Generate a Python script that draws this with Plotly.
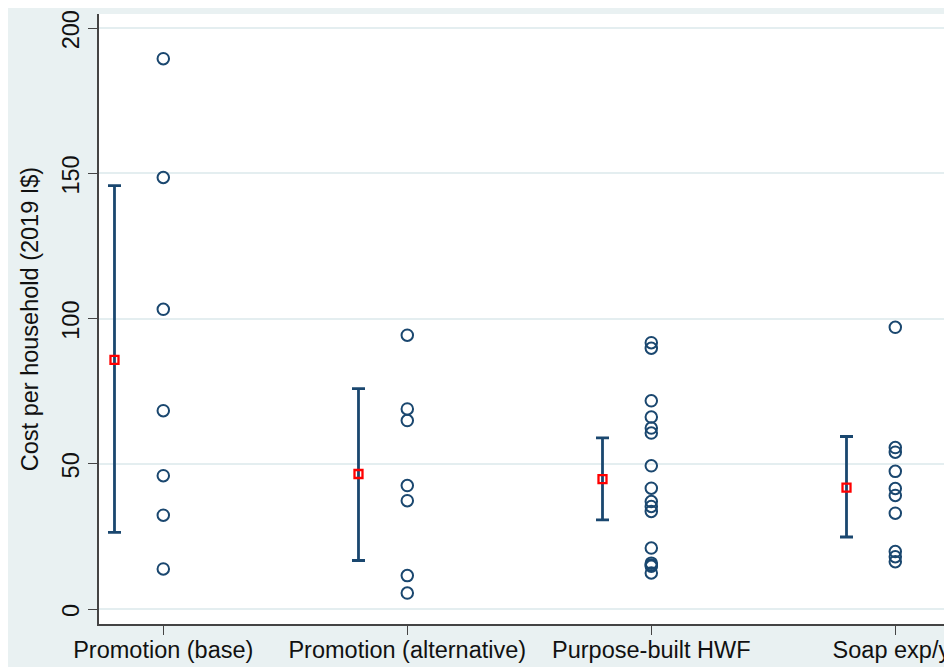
import plotly.graph_objects as go

categories = ["Promotion (base)", "Promotion (alternative)", "Purpose-built HWF", "Soap exp/yr"]
base_vals = [189.5, 148.6, 103.2, 68.3, 45.9, 32.3, 13.8]
alt_vals = [94.3, 68.9, 64.9, 42.5, 37.3, 11.5, 5.5]
hwf_vals = [91.7, 89.8, 71.7, 66.1, 62.3, 60.6, 49.3, 41.6, 37.0, 35.3, 33.6, 21.0, 15.8, 15.2, 14.7, 12.4]
soap_vals = [97.0, 55.6, 54.0, 47.4, 41.5, 39.1, 33.0, 19.8, 18.0, 16.3]
means = [85.8, 46.5, 44.7, 41.8]
ci_low = [26.4, 16.7, 30.7, 24.8]
ci_high = [145.8, 75.9, 58.9, 59.4]
y_ticks = [0, 50, 100, 150, 200]

NAVY = "#1a476f"
BG = "#e9f1f2"
W, H = 944, 659
ML, MR, MT, MB = 91, 4, 6, 43
offset = 0.2

series = [base_vals, alt_vals, hwf_vals, soap_vals]
xpos = list(range(1, len(categories) + 1))

fig = go.Figure()

# mean with CI
fig.add_trace(go.Scatter(
    x=[p - offset for p in xpos], y=means, mode="markers",
    marker=dict(symbol="square-open", color="#ff0000", size=8, line=dict(width=2.3, color="#ff0000")),
    error_y=dict(type="data", symmetric=False,
                 array=[h - m for h, m in zip(ci_high, means)],
                 arrayminus=[m - l for l, m in zip(ci_low, means)],
                 color=NAVY, thickness=2.8, width=6.5),
    showlegend=False, hoverinfo="skip"))

# individual studies
xs, ys = [], []
for p, vals in zip(xpos, series):
    xs += [p] * len(vals)
    ys += vals
fig.add_trace(go.Scatter(
    x=xs, y=ys, mode="markers",
    marker=dict(symbol="circle-open", color=NAVY, size=11.5, line=dict(width=2, color=NAVY)),
    showlegend=False))

fig.update_layout(
    width=W, height=H,
    margin=dict(l=ML, r=MR, t=MT, b=MB, autoexpand=False),
    paper_bgcolor=BG, plot_bgcolor="white",
    font=dict(family="Liberation Sans, Arial, Helvetica, sans-serif", size=23.5, color="#111111"),
    xaxis=dict(range=[0.7365, 4.216], tickmode="array", tickvals=xpos, ticktext=categories,
               showgrid=False, zeroline=False, showline=True, linecolor="#444444", linewidth=1.5,
               ticks="outside", ticklen=9, tickwidth=1.3, tickcolor="#444444",
               tickfont=dict(size=23.5), automargin=False, ticklabeloverflow="allow",
               ticklabelstandoff=-5),
    yaxis=dict(range=[-5.16, 204.9], tickmode="array", tickvals=y_ticks,
               showgrid=True, gridcolor="#e4eef0", gridwidth=1.5, zeroline=False,
               showline=True, linecolor="#444444", linewidth=1.5,
               ticks="outside", ticklen=9, tickwidth=1.3, tickcolor="#444444",
               tickangle=-90, tickfont=dict(size=23.5), automargin=False, ticklabeloverflow="allow",
               ticklabelshift=5,
               title=dict(text="Cost per household (2019 I$)", font=dict(size=23.5), standoff=13)),
)

fig.write_html("out.html")
